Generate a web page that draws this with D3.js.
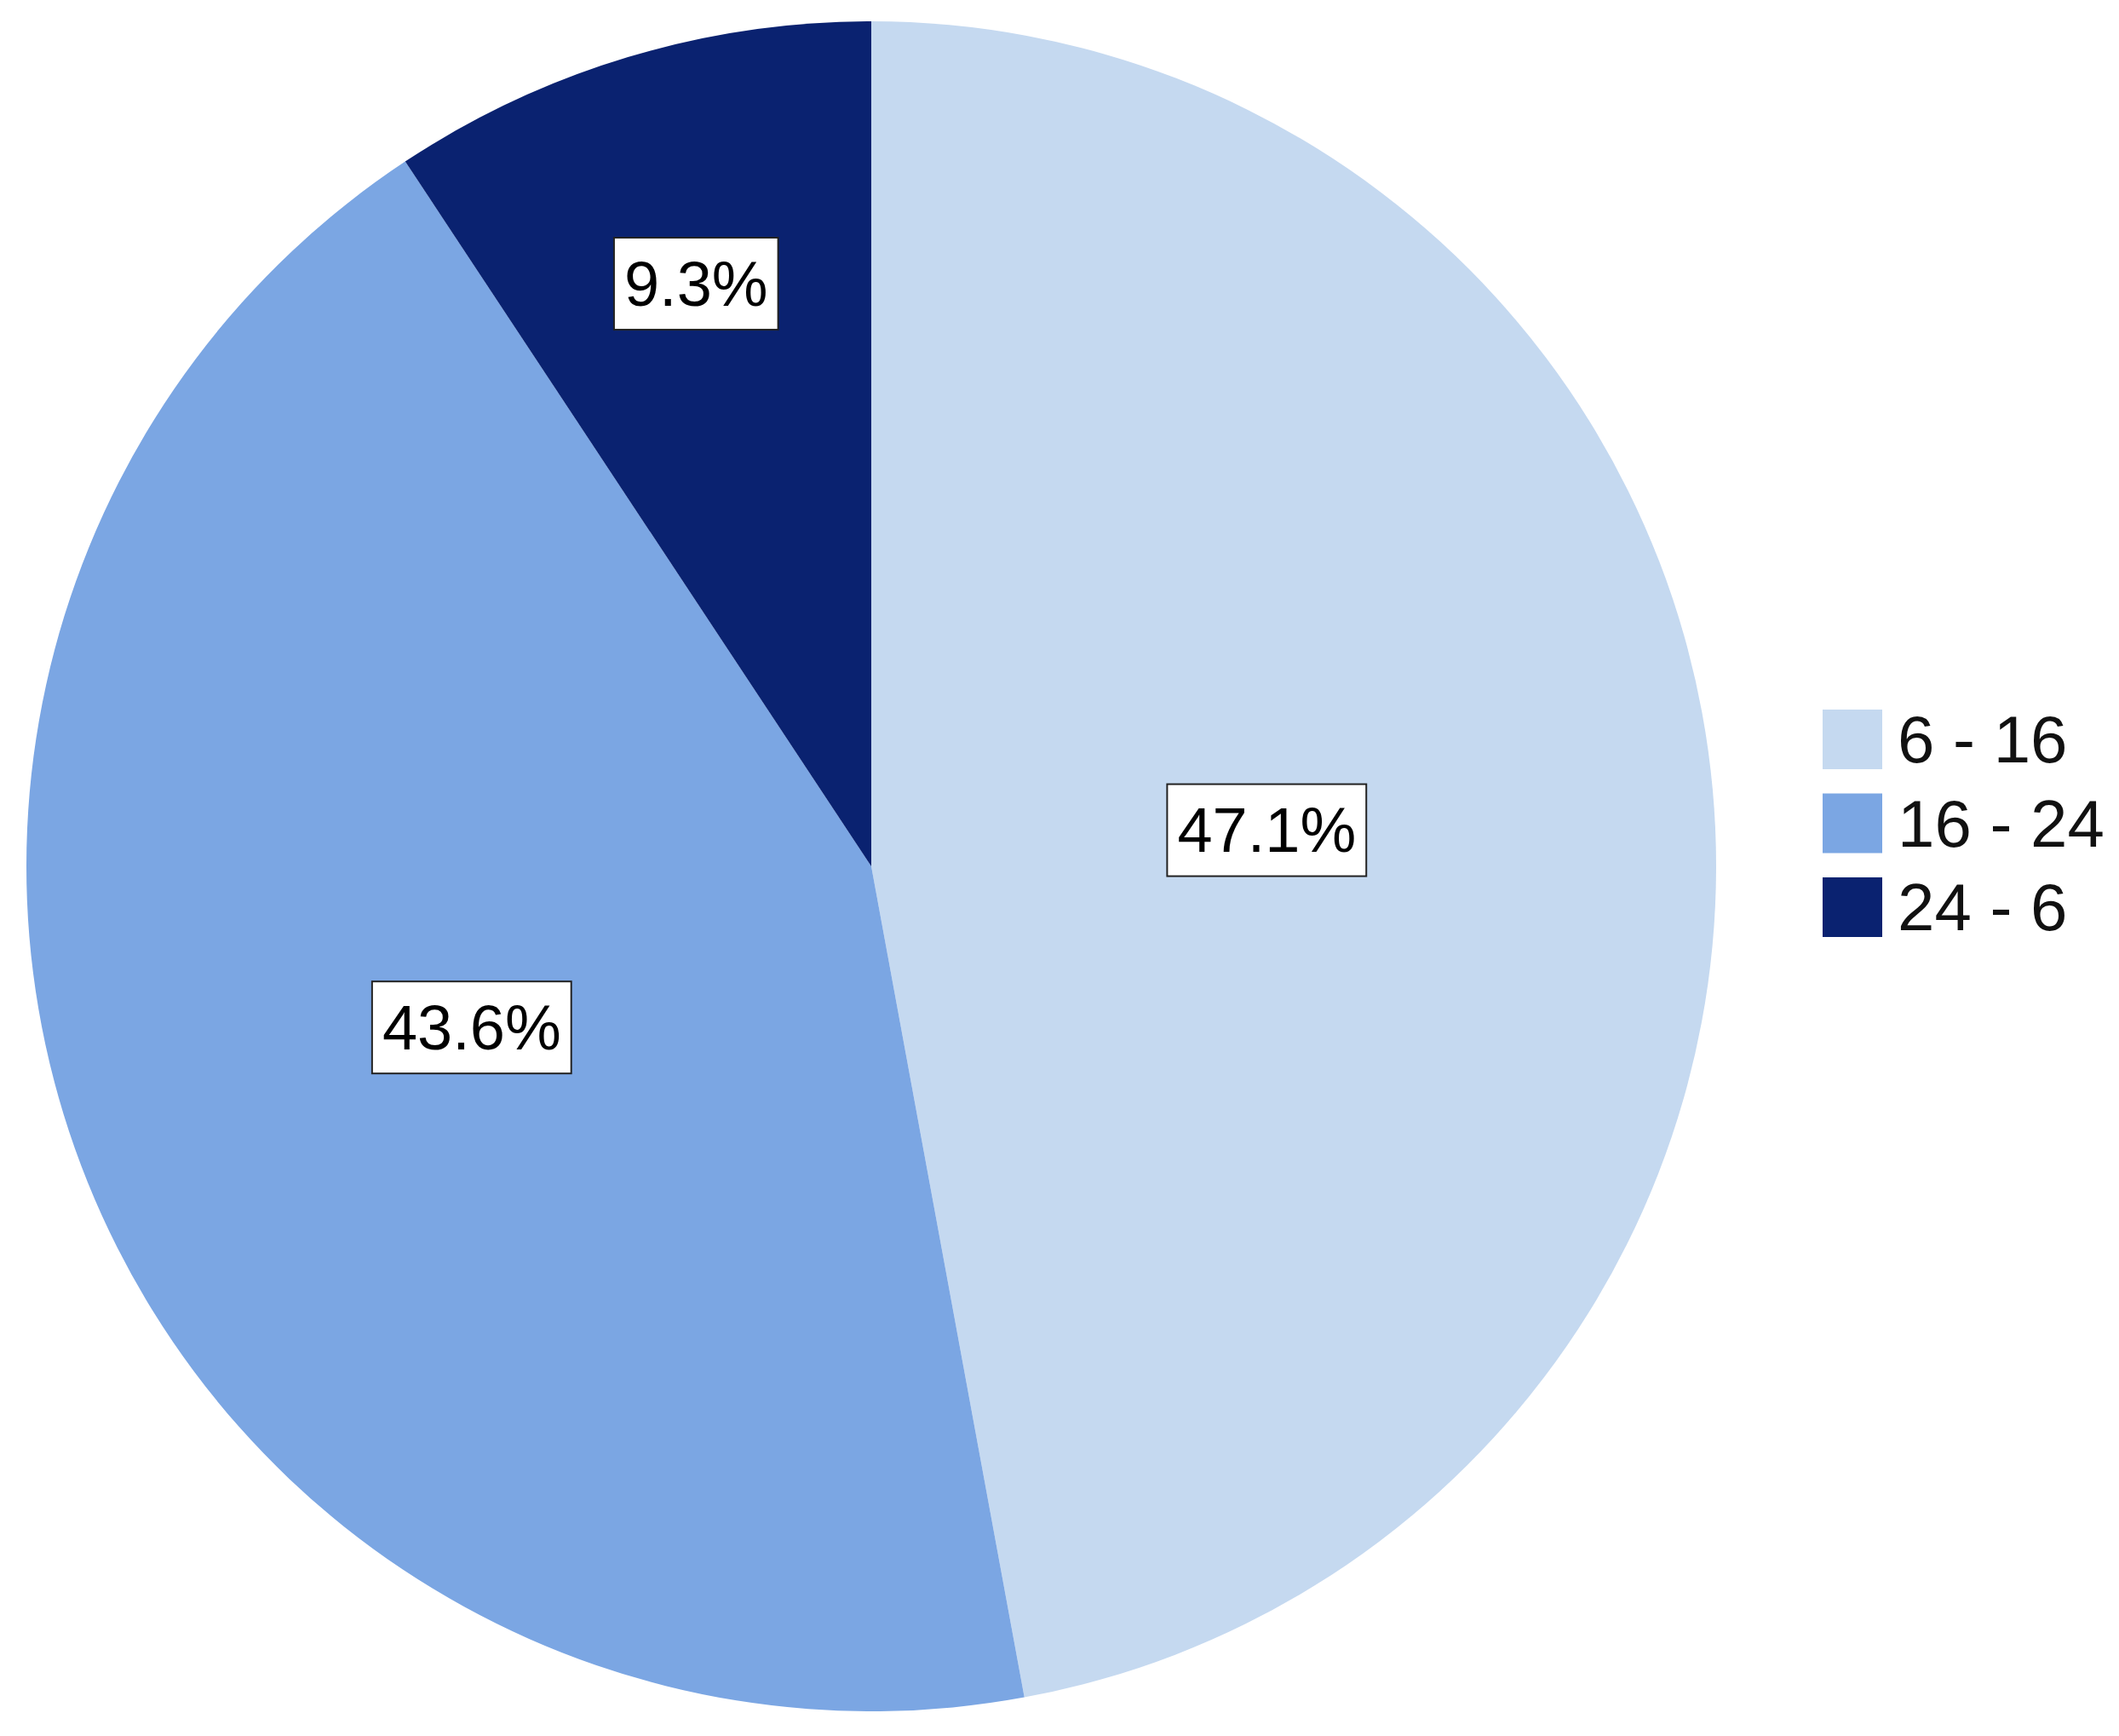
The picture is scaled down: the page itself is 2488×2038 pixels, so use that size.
<!DOCTYPE html><html><head><meta charset="utf-8"><script src="https://cdn.jsdelivr.net/npm/d3@7"></script>
<style>body{margin:0;background:#fff}svg{display:block}</style></head><body><script>
const categories=["6 - 16","16 - 24","24 - 6"];
const values=[47.1,43.6,9.3];
const colors=["#c5d9f0","#7ba6e3","#0a2270"];
const labelRadiusFrac=[0.47,0.51,0.72];
const W=2488,H=2038,cx=1023,cy=1017,R=992;
const svg=d3.select("body").append("svg").attr("width",W).attr("height",H);
const g=svg.append("g").attr("transform",`translate(${cx},${cy})`);
const pie=d3.pie().sort(null).value(d=>d)(values);
const arc=d3.arc().innerRadius(0).outerRadius(R);
g.selectAll("path").data(pie).join("path").attr("d",arc).attr("fill",(d,i)=>colors[i]);
pie.forEach((d,i)=>{
 const a=(d.startAngle+d.endAngle)/2, r=R*labelRadiusFrac[i];
 const x=Math.sin(a)*r, y=-Math.cos(a)*r;
 const t=values[i].toFixed(1)+"%";
 const lg=g.append("g").attr("transform",`translate(${x},${y})`);
 const tx=lg.append("text").attr("text-anchor","middle").attr("dominant-baseline","central")
  .attr("font-family","Liberation Sans, Arial, sans-serif").attr("font-size",74).attr("fill","#000").text(t);
 const bb=tx.node().getBBox();
 lg.insert("rect","text").attr("x",-bb.width/2-12).attr("y",-54).attr("width",bb.width+24).attr("height",108)
  .attr("fill","#fff").attr("stroke","#222").attr("stroke-width",2);
});
const leg=svg.append("g").attr("transform","translate(2140,833)");
categories.forEach((c,i)=>{
 const row=leg.append("g").attr("transform",`translate(0,${i*98.5})`);
 row.append("rect").attr("width",70).attr("height",70).attr("fill",colors[i]);
 row.append("text").attr("x",88).attr("y",35).attr("dominant-baseline","central")
  .attr("font-family","Liberation Sans, Arial, sans-serif").attr("font-size",78).attr("fill","#111").text(c);
});
</script></body></html>
